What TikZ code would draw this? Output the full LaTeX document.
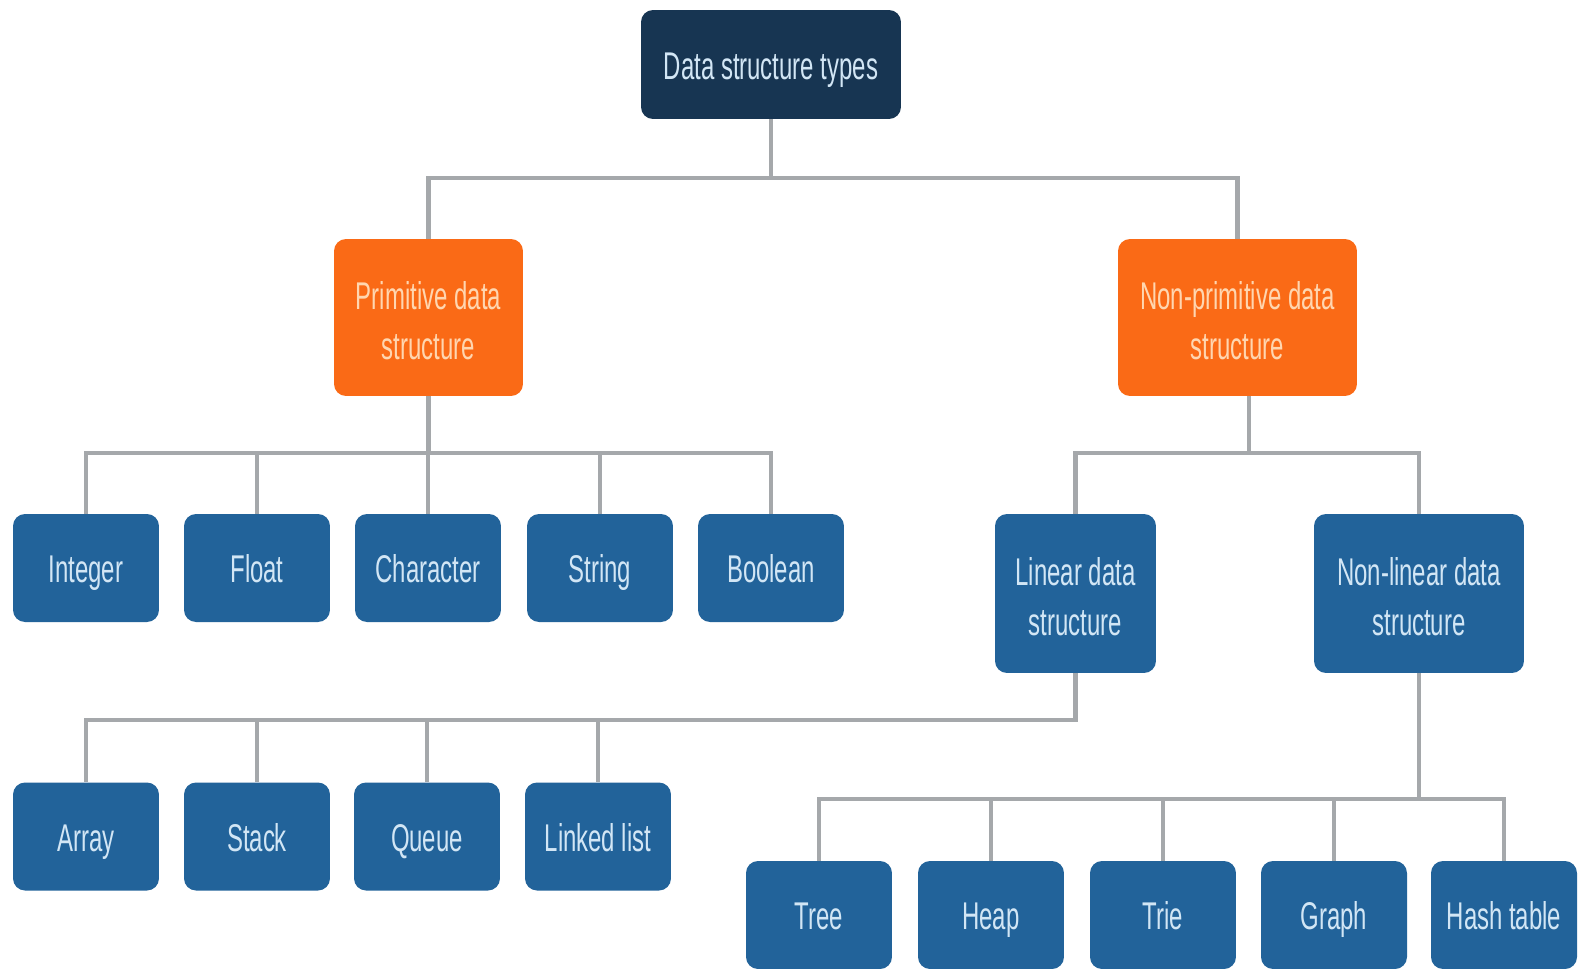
\documentclass[tikz,border=0pt]{standalone}
\usepackage{fontspec}
\setmainfont[FakeStretch=0.62]{Liberation Sans}
\usetikzlibrary{backgrounds}
\definecolor{rootblue}{HTML}{173552}
\definecolor{primorange}{HTML}{FA6A16}
\definecolor{leafblue}{HTML}{22639A}
\definecolor{linkgray}{HTML}{A5A8AB}
\definecolor{leaftext}{HTML}{D2E6F5}
\definecolor{primtext}{HTML}{FFD6B0}
\newcommand{\toppad}{\rule{0pt}{27.8pt}}

\tikzset{
  box/.style={rounded corners=0.24cm, inner sep=0pt, align=center,
    font=\fontsize{22}{28}\selectfont, text=leaftext,
    execute at begin node={\rule{0pt}{25.2pt}}, execute at end node=\strut},
  rootbox/.style={box, fill=rootblue, minimum width=5.2cm, minimum height=2.18cm},
  primbox/.style={box, fill=primorange, text=primtext, minimum height=3.14cm},
  leafbox/.style={box, fill=leafblue, minimum width=2.92cm, minimum height=2.16cm},
  midbox/.style={box, fill=leafblue, minimum height=3.18cm},
  link/.style={draw=linkgray, line width=2.8pt}
}

\begin{document}
\begin{tikzpicture}[x=0.02cm, y=-0.02cm]
  \useasboundingbox (0,0) rectangle (1579,968);

  % top levels
  \node [rootbox] (root) at (771, 64.5) {Data structure types};
  \node [primbox, minimum width=3.78cm] (prim) at (428.5, 317.5) {\toppad Primitive data\\structure};
  \node [primbox, minimum width=4.78cm] (nonprim) at (1237.5, 317.5) {\toppad Non-primitive data\\structure};

  % primitive types
  \node [leafbox] (integer) at (86, 568) {Integer};
  \node [leafbox] (float) at (257, 568) {Float};
  \node [leafbox] (character) at (428, 568) {Character};
  \node [leafbox] (string) at (600, 568) {String};
  \node [leafbox] (boolean) at (771, 568) {Boolean};

  % non-primitive types
  \node [midbox, minimum width=3.22cm] (linear) at (1075.5, 593.5) {\toppad Linear data\\structure};
  \node [midbox, minimum width=4.2cm] (nonlinear) at (1419, 593.5) {\toppad Non-linear data\\structure};

  \node [leafbox] (array) at (86, 836.5) {Array};
  \node [leafbox] (stack) at (257, 836.5) {Stack};
  \node [leafbox] (queue) at (427, 836.5) {Queue};
  \node [leafbox] (linkedlist) at (598, 836.5) {Linked list};

  \node [leafbox] (tree) at (819, 915) {Tree};
  \node [leafbox] (heap) at (991, 915) {Heap};
  \node [leafbox] (trie) at (1163, 915) {Trie};
  \node [leafbox] (graph) at (1334, 915) {Graph};
  \node [leafbox] (hashtable) at (1504, 915) {Hash table};

  \coordinate (busroot) at (0, 178);
  \coordinate (busprim) at (0, 453);
  \coordinate (buslin) at (0, 720);
  \coordinate (busnonlin) at (0, 799);
  \coordinate (npout) at (1249, 396);

  \begin{scope}[on background layer]
    \fill [white] (0,0) rectangle (1579,968);
    \foreach \c in {prim, nonprim}
      \draw [link] (root.south) -- (root.south |- busroot) -| (\c.north);
    \foreach \c in {integer, float, character, string, boolean}
      \draw [link] (prim.south) -- (prim.south |- busprim) -| (\c.north);
    \foreach \c in {linear, nonlinear}
      \draw [link] (npout) -- (npout |- busprim) -| (\c.north);
    \foreach \c in {array, stack, queue, linkedlist}
      \draw [link] (linear.south) -- (linear.south |- buslin) -| (\c.north);
    \foreach \c in {tree, heap, trie, graph, hashtable}
      \draw [link] (nonlinear.south) -- (nonlinear.south |- busnonlin) -| (\c.north);
  \end{scope}
\end{tikzpicture}
\end{document}
